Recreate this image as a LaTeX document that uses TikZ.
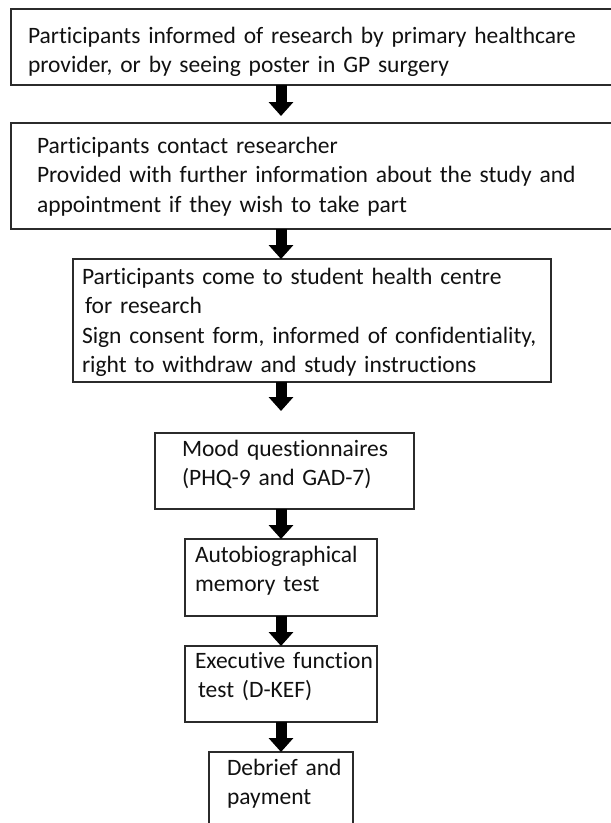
\documentclass[tikz,border=0pt]{standalone}
\usepackage{fontspec}
\setmainfont{Carlito}[Ligatures=NoCommon]
\usepackage{tikz}
\usetikzlibrary{arrows.meta,positioning}
\definecolor{ln}{HTML}{2B2B2B}
\definecolor{txt}{HTML}{111111}
\newcommand{\boxfont}{\fontsize{23.5pt}{29.5pt}\selectfont
  \hyphenpenalty=10000 \exhyphenpenalty=10000 }

\begin{document}
\begin{tikzpicture}[x=1pt,y=-1pt,
  stepbox/.style={draw=ln,line width=1.6pt,anchor=north west,align=left,
    inner ysep=0pt,outer sep=0pt,font=\boxfont,text=txt},
  flow/.style={-{Triangle[width=24pt,length=14pt]},line width=11pt,black}]
  \useasboundingbox (0,0) rectangle (611,823);
  \clip (0,0) rectangle (611,823);
  \fill[white] (0,0) rectangle (611,823);
  \coordinate (axis) at (281,0);
  % boxes, top to bottom
  \node[stepbox,inner xsep=17pt,text width=605pt,text height=34pt,text depth=42pt]
    (inform) at (11,9) {Participants informed of research by primary healthcare\\
    provider, or by seeing poster in GP surgery};
  \node[stepbox,inner xsep=26pt,text width=587pt,text height=30pt,text depth=76pt]
    (contact) at (11,123) {Participants contact researcher\\
    Provided with further information about the study and\\
    appointment if they wish to take part};
  \node[stepbox,inner xsep=9pt,text width=460pt,text height=25pt,text depth=98pt]
    (consent) at (73,259) {Participants come to student health centre\\
    \hspace*{3pt}for research\\
    Sign consent form, informed of confidentiality,\\
    right to withdraw and study instructions};
  \node[stepbox,inner xsep=27pt,text width=205pt,text height=23pt,text depth=53pt]
    (mood) at (155,433) {Mood~questionnaires\\(PHQ-9~and~GAD-7)};
  \node[stepbox,inner xsep=10pt,text width=172pt,text height=23pt,text depth=54pt]
    (memory) at (185,539) {Autobiographical\\memory~test};
  \node[stepbox,inner xsep=10pt,text width=172pt,text height=22pt,text depth=54pt]
    (exec) at (185,646) {Executive~function\\\hspace*{3pt}test~(D-KEF)};
  \node[stepbox,inner xsep=18pt,text width=108pt,text height=23pt,text depth=85pt]
    (debrief) at (209,752) {Debrief~and\\payment};
  % arrows
  \foreach \a/\b/\g in {inform/contact/7pt,contact/consent/0pt,consent/mood/22pt,
      mood/memory/0pt,memory/exec/0pt,exec/debrief/0pt}
    \draw[flow,shorten >=\g] (\a.south -| axis) -- (\b.north -| axis);
\end{tikzpicture}
\end{document}
